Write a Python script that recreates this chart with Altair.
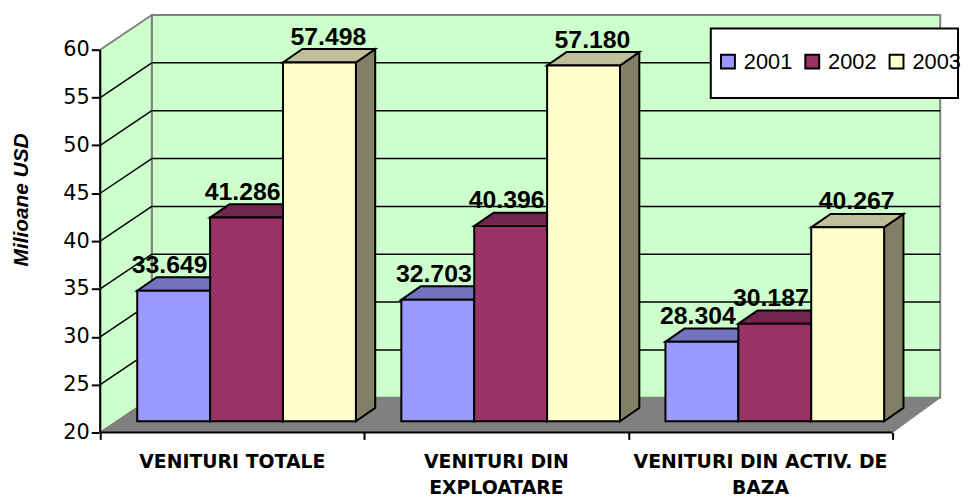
import altair as alt
import pandas as pd

# ---------------- data ----------------
categories = ["VENITURI TOTALE", "VENITURI DIN\nEXPLOATARE", "VENITURI DIN ACTIV. DE\nBAZA"]
years = ["2001", "2002", "2003"]
v2001 = [33.649, 32.703, 28.304]
v2002 = [41.286, 40.396, 30.187]
v2003 = [57.498, 57.180, 40.267]
y_ticks = [20, 25, 30, 35, 40, 45, 50, 55, 60]
y_title = "Milioane USD"

# ---------------- style / geometry ----------------
front_colors = ["#9999FF", "#993366", "#FFFFCC"]
top_colors = ["#7373BF", "#73264D", "#BFBF99"]
side_colors = ["#4D4D80", "#4D1A33", "#808066"]
label_dx = [-4, -4, 9]

PX = 9.65                     # pixels per value unit
W, H = 847, 421
Y0, Y1 = 20, 60
YMAX = Y0 + H / PX
BAND = 799 / 3
DEPTH_X, DEPTH_Y = 52, 35 / PX
BAR_OX, BAR_OY = 16.8, 11.3 / PX
BAR_DX, BAR_DY = 19.5, 13.5 / PX
BAR_PAD, BAR_W = 20.5, 73.5

xs = alt.Scale(domain=[0, W], nice=False, zero=False)
ys = alt.Scale(domain=[Y0, YMAX], nice=False, zero=False)

x_ticks = [0, BAND, 2 * BAND, 3 * BAND]
X_AXIS = alt.Axis(values=x_ticks, labels=False, domain=False, grid=False,
                  ticks=True, tickColor="black", tickWidth=2, tickSize=7, title=None)
Y_AXIS = alt.Axis(values=y_ticks, domain=False, grid=False, tickColor="black",
                  tickWidth=2, tickSize=9, labelFont="DejaVu Sans", labelFontSize=21,
                  labelColor="black", labelPadding=2, title=y_title,
                  titleFont="Liberation Sans", titleFontSize=21, titleFontWeight="bold",
                  titleFontStyle="italic", titleColor="black", titleX=-79, titleY=186,
                  titleAngle=270, titleAlign="center", titleBaseline="middle")

series_vals = [v2001, v2002, v2003]

fronts, tops, sides = [], [], []
for i, cat in enumerate(categories):
    for s, yr in enumerate(years):
        v = series_vals[s][i]
        x0 = BAR_OX + i * BAND + BAR_PAD + s * BAR_W
        x1 = x0 + BAR_W
        yb = Y0 + BAR_OY
        yt = v + BAR_OY
        bid = f"{i}-{s}"
        fronts.append(dict(id=bid, series=yr, x0=x0, x1=x1, yb=yb, yt=yt,
                           lx=(x0 + x1) / 2 + label_dx[s], label=f"{v:.3f}"))
        tops.append(dict(id=bid, c=top_colors[s], y=yt, xa=x0, xb=x1))
        tops.append(dict(id=bid, c=top_colors[s], y=yt + BAR_DY, xa=x0 + BAR_DX, xb=x1 + BAR_DX))
        sides.append(dict(id=bid, c=side_colors[s], x=x1, ya=yb, yb2=yt))
        sides.append(dict(id=bid, c=side_colors[s], x=x1 + BAR_DX, ya=yb + BAR_DY, yb2=yt + BAR_DY))

df_front = pd.DataFrame(fronts)
df_top = pd.DataFrame(tops)
df_side = pd.DataFrame(sides)

def X(f):
    return alt.X(f, type="quantitative", scale=xs, axis=X_AXIS)

def Y(f):
    return alt.Y(f, type="quantitative", scale=ys, axis=Y_AXIS)

# back wall
df_back = pd.DataFrame([dict(x0=DEPTH_X, x1=W, y0=Y0 + DEPTH_Y, y1=Y1 + DEPTH_Y)])
back = alt.Chart(df_back).mark_rect(fill="#CCFFCC", stroke="#808080", strokeWidth=2).encode(
    x=X("x0"), x2="x1", y=Y("y0"), y2="y1")

# left wall
df_left = pd.DataFrame([dict(x=0, ya=Y0, yb=Y1), dict(x=DEPTH_X, ya=Y0 + DEPTH_Y, yb=Y1 + DEPTH_Y)])
left = alt.Chart(df_left).mark_area(orient="vertical", fill="#CCFFCC", stroke="#808080",
                                    strokeWidth=2).encode(x=X("x"), y=Y("ya"), y2="yb")

# gridlines
grid_vals = [v for v in y_ticks if Y0 < v < Y1]
df_grid = pd.DataFrame([dict(xa=0, xb=DEPTH_X, xc=W, ya=v, yb=v + DEPTH_Y) for v in grid_vals])
grid_back = alt.Chart(df_grid).mark_rule(color="black", strokeWidth=1.5).encode(
    x=X("xb"), x2="xc", y=Y("yb"))
grid_left = alt.Chart(df_grid).mark_rule(color="black", strokeWidth=1.5).encode(
    x=X("xa"), x2="xb", y=Y("ya"), y2="yb")

# floor
df_floor = pd.DataFrame([dict(y=Y0, xa=0, xb=3 * BAND), dict(y=Y0 + DEPTH_Y, xa=DEPTH_X, xb=W)])
floor = alt.Chart(df_floor).mark_area(orient="horizontal", fill="#808080", stroke="#808080",
                                      strokeWidth=1).encode(y=Y("y"), x=X("xa"), x2="xb")

# bars
side_l = alt.Chart(df_side).mark_area(orient="vertical", stroke="black", strokeWidth=2).encode(
    x=X("x"), y=Y("ya"), y2="yb2", detail="id:N", fill=alt.Fill("c:N", scale=None))
top_l = alt.Chart(df_top).mark_area(orient="horizontal", stroke="black", strokeWidth=2).encode(
    y=Y("y"), x=X("xa"), x2="xb", detail="id:N", fill=alt.Fill("c:N", scale=None))
front_l = alt.Chart(df_front).mark_rect(stroke="black", strokeWidth=2).encode(
    x=X("x0"), x2="x1", y=Y("yb"), y2="yt",
    color=alt.Color("series:N", scale=alt.Scale(domain=years, range=front_colors),
                    legend=alt.Legend(orient="none", legendX=622, legendY=36, direction="horizontal",
                                      title=None, symbolType="square", symbolSize=196,
                                      symbolStrokeColor="black", symbolStrokeWidth=2,
                                      labelFont="Liberation Sans", labelFontSize=22,
                                      labelColor="black", labelOffset=5, columnPadding=9,
                                      padding=0)))

labels = alt.Chart(df_front).mark_text(font="Liberation Sans", fontWeight="bold", fontSize=25,
                                       baseline="alphabetic", align="center", dy=-18,
                                       color="black").encode(
    x=X("lx"), y=Y("yt"), text="label:N")

# category labels
df_cat = pd.DataFrame([dict(cx=BAND * (i + 0.5), y=Y0, name=c) for i, c in enumerate(categories)])
cat_l = alt.Chart(df_cat).mark_text(font="DejaVu Sans", fontWeight="bold", fontSize=19,
                                    baseline="alphabetic", align="center", dy=36, lineHeight=26,
                                    lineBreak="\n", color="black").encode(
    x=X("cx"), y=Y("y"), text="name:N")

# axes lines
df_axes = pd.DataFrame([dict(xa=0, xb=3 * BAND, ya=Y0, yb=Y1)])
axis_y = alt.Chart(df_axes).mark_rule(color="black", strokeWidth=2).encode(
    x=X("xa"), y=Y("ya"), y2="yb")
axis_x = alt.Chart(df_axes).mark_rule(color="black", strokeWidth=2).encode(
    x=X("xa"), x2="xb", y=Y("ya"))

# legend frame
legend_box = alt.Chart(pd.DataFrame([{"k": 1}])).mark_rect(
    fill="white", stroke="black", strokeWidth=2).encode(
    x=alt.value(615.7), x2=alt.value(865), y=alt.value(13.7), y2=alt.value(83.7))

chart = alt.layer(back, left, grid_back, grid_left, floor, side_l, top_l, front_l, labels,
                  cat_l, axis_y, axis_x, legend_box).properties(
    width=W, height=H,
    autosize=alt.AutoSizeParams(type="none"),
    padding={"left": 93, "top": 5, "right": 21, "bottom": 64},
    background="white",
).configure_view(stroke=None)

chart.save("out.html", embed_options={"renderer": "svg", "actions": False})
